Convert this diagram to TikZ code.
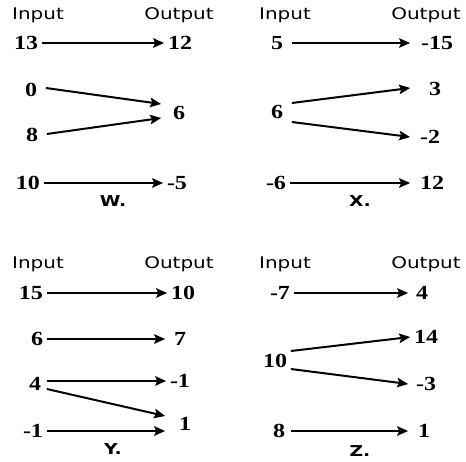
\documentclass[tikz,border=0pt]{standalone}
\usepackage{fontspec}
\setmainfont{Liberation Serif}
\newfontfamily\headfont{DejaVu Sans}
\usetikzlibrary{arrows.meta}

\begin{document}
\begin{tikzpicture}[x=1pt,y=-1pt,
		num/.style={font=\fontsize{20}{20}\selectfont\bfseries,inner sep=3pt,xscale=1.2},
		head/.style={font=\headfont\fontsize{16}{16}\selectfont,inner sep=0pt,xscale=1.25},
		tag/.style={font=\headfont\bfseries\fontsize{15}{15}\selectfont,inner sep=0pt,xscale=1.25},
		arr/.style={line width=2pt,-{Stealth[length=11pt,width=9.5pt,inset=2pt]}}]
	\useasboundingbox (0,0) rectangle (466,462);
	
	% Mapping W
	\node[head] (wIn) at (38,15) {Input};
	\node[head] (wOut) at (179,15) {Output};
	\node[num] (w13) at (26,43) {13};
	\node[num] (w12) at (180,43) {12};
	\node[num] (w0) at (31,90) {0};
	\node[num] (w6) at (179,113) {6};
	\node[num] (w8) at (32,135) {8};
	\node[num] (w10) at (28,183) {10};
	\node[num] (wm5) at (177,183) {-5};
	\node[tag] (wTag) at (113,201) {W.};
	\draw[arr] (w13.east) -- (w12.west);
	\draw[arr] ([xshift=5pt,yshift=2pt]w0.east) -- ([xshift=-8pt,yshift=9pt]w6.west);
	\draw[arr] ([xshift=5pt,yshift=1pt]w8.east) -- ([xshift=-8pt,yshift=-5pt]w6.west);
	\draw[arr] (w10.east) -- (wm5.west);
	
	% Mapping X
	\node[head] (xIn) at (285,15) {Input};
	\node[head] (xOut) at (426,15) {Output};
	\node[num] (x5) at (277,43) {5};
	\node[num] (xm15) at (437,43) {-15};
	\node[num] (x3) at (435,89) {3};
	\node[num] (x6) at (277,112) {6};
	\node[num] (xm2) at (430,137) {-2};
	\node[num] (xm6) at (276,183) {-6};
	\node[num] (x12) at (432,183) {12};
	\node[tag] (xTag) at (360,201) {X.};
	\draw[arr] ([xshift=5pt]x5.east) -- ([xshift=-7pt]xm15.west);
	\draw[arr] ([xshift=5pt,yshift=9pt]x6.east) -- ([xshift=-15pt,yshift=1pt]x3.west);
	\draw[arr] ([xshift=5pt,yshift=-10pt]x6.east) -- ([xshift=-6pt]xm2.west);
	\draw[arr] (xm6.east) -- ([xshift=-6pt]x12.west);
	
	% Mapping Y
	\node[head] (yIn) at (38,264) {Input};
	\node[head] (yOut) at (179,264) {Output};
	\node[num] (y15) at (31,293) {15};
	\node[num] (y10) at (183,293) {10};
	\node[num] (y6) at (37,339) {6};
	\node[num] (y7) at (180,339) {7};
	\node[num] (y4) at (35,384) {4};
	\node[num] (ym1b) at (180,381) {-1};
	\node[num] (y1) at (185,424) {1};
	\node[num] (ym1) at (33,431) {-1};
	\node[tag] (yTag) at (113,449) {Y.};
	\draw[arr] (y15.east) -- (y10.west);
	\draw[arr] (y6.east) -- ([xshift=-5pt]y7.west);
	\draw[arr] ([xshift=2pt,yshift=3pt]y4.east) -- (ym1b.west);
	\draw[arr] ([xshift=2pt,yshift=-5pt]y4.east) -- ([xshift=-10pt,yshift=8pt]y1.west);
	\draw[arr] (ym1.east) -- ([xshift=-10pt,yshift=-7pt]y1.west);
	
	% Mapping Z
	\node[head] (zIn) at (285,264) {Input};
	\node[head] (zOut) at (426,264) {Output};
	\node[num] (zm7) at (280,293) {-7};
	\node[num] (z4) at (422,293) {4};
	\node[num] (z14) at (426,337) {14};
	\node[num] (z10) at (275,361) {10};
	\node[num] (zm3) at (426,384) {-3};
	\node[num] (z8) at (279,431) {8};
	\node[num] (z1) at (424,431) {1};
	\node[tag] (zTag) at (360,451) {Z.};
	\draw[arr] (zm7.east) -- ([xshift=-4pt]z4.west);
	\draw[arr] ([yshift=10pt]z10.east) -- (z14.west);
	\draw[arr] ([yshift=-8pt]z10.east) -- ([xshift=-4pt]zm3.west);
	\draw[arr] ([xshift=2pt]z8.east) -- ([xshift=-6pt]z1.west);
\end{tikzpicture}
\end{document}
